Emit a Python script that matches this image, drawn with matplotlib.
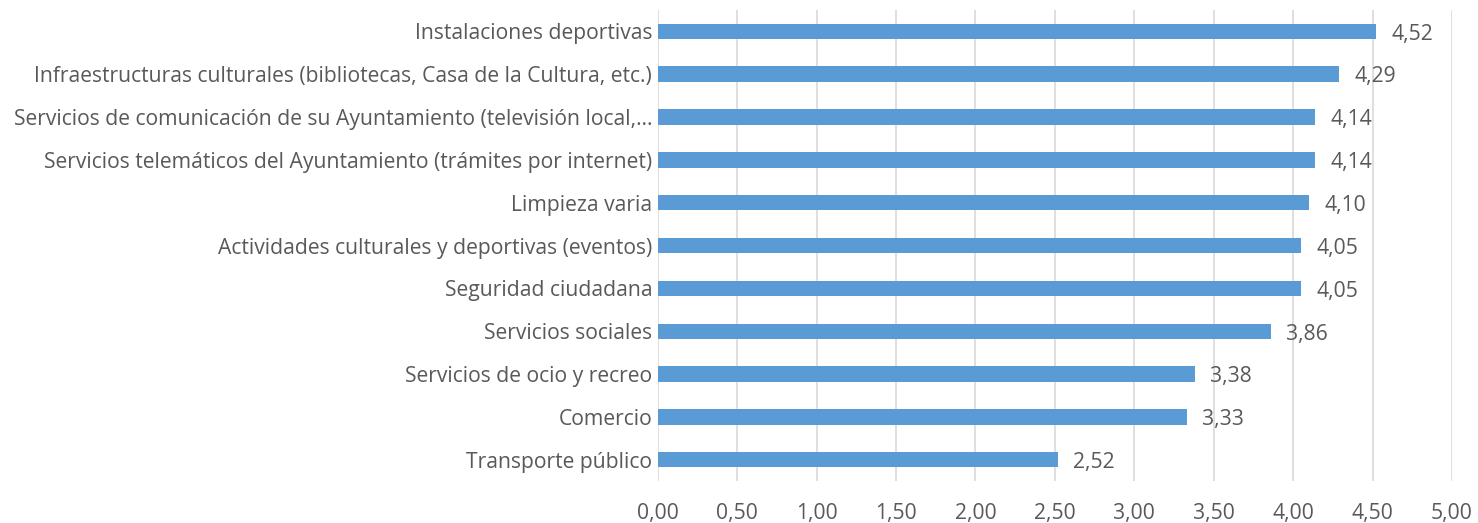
import matplotlib
matplotlib.use("Agg")
import matplotlib.pyplot as plt
from matplotlib.ticker import FuncFormatter, MultipleLocator

categories = [
    "Instalaciones deportivas",
    "Infraestructuras culturales (bibliotecas, Casa de la Cultura, etc.)",
    "Servicios de comunicación de su Ayuntamiento (televisión local,…",
    "Servicios telemáticos del Ayuntamiento (trámites por internet)",
    "Limpieza varia",
    "Actividades culturales y deportivas (eventos)",
    "Seguridad ciudadana",
    "Servicios sociales",
    "Servicios de ocio y recreo",
    "Comercio",
    "Transporte público",
]
values = [4.52, 4.29, 4.14, 4.14, 4.10, 4.05, 4.05, 3.86, 3.38, 3.33, 2.52]

plt.rcParams['font.family'] = ['Open Sans', 'DejaVu Sans']
text_color = '#595959'
fs = 15.2

fig = plt.figure(figsize=(14.78, 5.23), dpi=100)
ax = fig.add_axes([0.445, 0.080, 0.9824 - 0.445, 0.901])

y = list(range(len(categories)))
ax.barh(y, values, height=0.36, color='#5B9BD5', zorder=3)
ax.set_ylim(len(categories) - 0.5, -0.5)
ax.set_xlim(0, 5)
ax.set_yticks(y)
ax.set_yticklabels(categories, fontsize=fs, color=text_color)
ax.xaxis.set_major_locator(MultipleLocator(0.5))
ax.xaxis.set_major_formatter(FuncFormatter(lambda v, p: f"{v:.2f}".replace('.', ',')))
ax.tick_params(axis='x', labelsize=fs, labelcolor=text_color, length=0, pad=16)
ax.tick_params(axis='y', length=0, pad=4)
ax.grid(axis='x', color='#D9D9D9', linewidth=1.2, zorder=0)
for s in ax.spines.values():
    s.set_visible(False)

for yi, v in zip(y, values):
    ax.annotate(f"{v:.2f}".replace('.', ','), xy=(v, yi), xytext=(11, -2),
                textcoords='offset points', va='center', ha='left',
                fontsize=fs, color=text_color)

fig.savefig('out.png', dpi=100)
